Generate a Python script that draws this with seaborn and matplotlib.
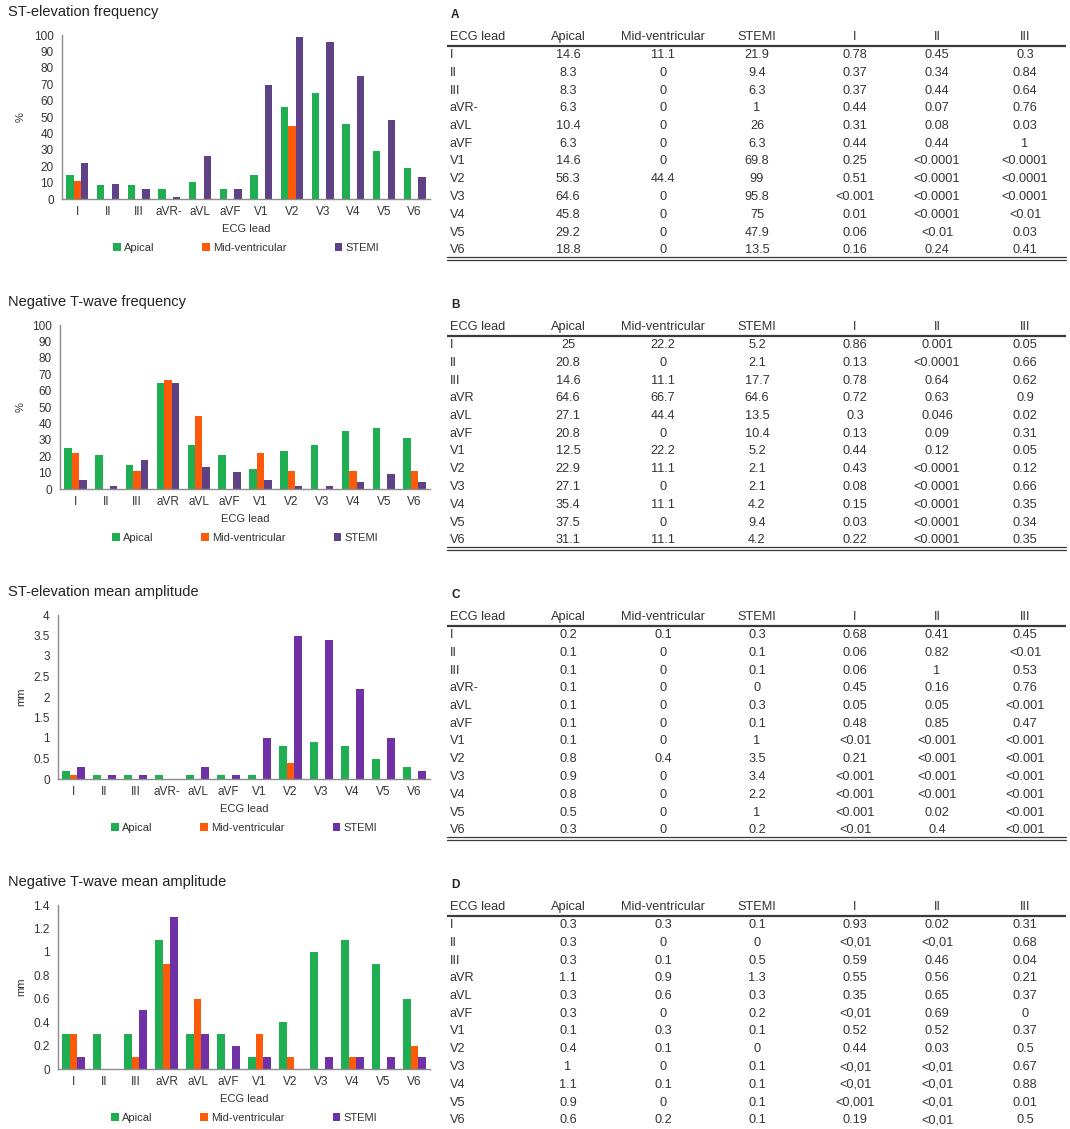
import numpy as np
import pandas as pd
import matplotlib
matplotlib.use("Agg")
import matplotlib.pyplot as plt
from matplotlib.ticker import MultipleLocator, FixedLocator, FuncFormatter
import seaborn as sns

# ---- data ----
groups = ["Apical", "Mid-ventricular", "STEMI"]
leads_a = ["I", "II", "III", "aVR-", "aVL", "aVF", "V1", "V2", "V3", "V4", "V5", "V6"]
leads_b = ["I", "II", "III", "aVR", "aVL", "aVF", "V1", "V2", "V3", "V4", "V5", "V6"]

# A - ST-elevation frequency (%)
st_freq_apical = [14.6, 8.3, 8.3, 6.3, 10.4, 6.3, 14.6, 56.3, 64.6, 45.8, 29.2, 18.8]
st_freq_mid = [11.1, 0, 0, 0, 0, 0, 0, 44.4, 0, 0, 0, 0]
st_freq_stemi = [21.9, 9.4, 6.3, 1, 26, 6.3, 69.8, 99, 95.8, 75, 47.9, 13.5]
st_freq_p1 = ["0.78", "0.37", "0.37", "0.44", "0.31", "0.44", "0.25", "0.51", "<0.001", "0.01", "0.06", "0.16"]
st_freq_p2 = ["0.45", "0.34", "0.44", "0.07", "0.08", "0.44", "<0.0001", "<0.0001", "<0.0001", "<0.0001", "<0.01", "0.24"]
st_freq_p3 = ["0.3", "0.84", "0.64", "0.76", "0.03", "1", "<0.0001", "<0.0001", "<0.0001", "<0.01", "0.03", "0.41"]

# B - negative T-wave frequency (%)
tw_freq_apical = [25, 20.8, 14.6, 64.6, 27.1, 20.8, 12.5, 22.9, 27.1, 35.4, 37.5, 31.1]
tw_freq_mid = [22.2, 0, 11.1, 66.7, 44.4, 0, 22.2, 11.1, 0, 11.1, 0, 11.1]
tw_freq_stemi = [5.2, 2.1, 17.7, 64.6, 13.5, 10.4, 5.2, 2.1, 2.1, 4.2, 9.4, 4.2]
tw_freq_p1 = ["0.86", "0.13", "0.78", "0.72", "0.3", "0.13", "0.44", "0.43", "0.08", "0.15", "0.03", "0.22"]
tw_freq_p2 = ["0.001", "<0.0001", "0.64", "0.63", "0.046", "0.09", "0.12", "<0.0001", "<0.0001", "<0.0001", "<0.0001", "<0.0001"]
tw_freq_p3 = ["0.05", "0.66", "0.62", "0.9", "0.02", "0.31", "0.05", "0.12", "0.66", "0.35", "0.34", "0.35"]

# C - ST-elevation mean amplitude (mm)
st_amp_apical = [0.2, 0.1, 0.1, 0.1, 0.1, 0.1, 0.1, 0.8, 0.9, 0.8, 0.5, 0.3]
st_amp_mid = [0.1, 0, 0, 0, 0, 0, 0, 0.4, 0, 0, 0, 0]
st_amp_stemi = [0.3, 0.1, 0.1, 0, 0.3, 0.1, 1, 3.5, 3.4, 2.2, 1, 0.2]
st_amp_p1 = ["0.68", "0.06", "0.06", "0.45", "0.05", "0.48", "<0.01", "0.21", "<0.001", "<0.001", "<0.001", "<0.01"]
st_amp_p2 = ["0.41", "0.82", "1", "0.16", "0.05", "0.85", "<0.001", "<0.001", "<0.001", "<0.001", "0.02", "0.4"]
st_amp_p3 = ["0.45", "<0.01", "0.53", "0.76", "<0.001", "0.47", "<0.001", "<0.001", "<0.001", "<0.001", "<0.001", "<0.001"]

# D - negative T-wave mean amplitude (mm)
tw_amp_apical = [0.3, 0.3, 0.3, 1.1, 0.3, 0.3, 0.1, 0.4, 1, 1.1, 0.9, 0.6]
tw_amp_mid = [0.3, 0, 0.1, 0.9, 0.6, 0, 0.3, 0.1, 0, 0.1, 0, 0.2]
tw_amp_stemi = [0.1, 0, 0.5, 1.3, 0.3, 0.2, 0.1, 0, 0.1, 0.1, 0.1, 0.1]
tw_amp_p1 = ["0.93", "<0,01", "0.59", "0.55", "0.35", "<0,01", "0.52", "0.44", "<0,01", "<0,01", "<0,001", "0.19"]
tw_amp_p2 = ["0.02", "<0,01", "0.46", "0.56", "0.65", "0.69", "0.52", "0.03", "<0,01", "<0,01", "<0,01", "<0,01"]
tw_amp_p3 = ["0.31", "0.68", "0.04", "0.21", "0.37", "0", "0.37", "0.5", "0.67", "0.88", "0.01", "0.5"]

table_header = ["ECG lead", "Apical", "Mid-ventricular", "STEMI", "I", "II", "III"]

GREEN = "#1fae51"
ORANGE = "#ff5a0a"
PURPLE_DARK = "#5f4285"
PURPLE = "#7131a6"
TXT = "#333333"
AXIS = "#8c8c8c"

W, H = 1070, 1129
sns.set_style("white")
plt.rcParams["font.family"] = ["Liberation Sans", "DejaVu Sans"]

fig = plt.figure(figsize=(W / 100, H / 100), dpi=100)

# overlay axes in pixel coordinates for titles and tables
ov = fig.add_axes([0, 0, 1, 1])
ov.set_xlim(0, W)
ov.set_ylim(H, 0)
ov.axis("off")
ov.patch.set_visible(False)


def bar_panel(off, left, title, leads, apical, mid, stemi, purple, ymax, ystep, ylabel):
    top, bottom, right = off + 35, off + 199, 430
    ax = fig.add_axes([left / W, 1 - bottom / H, (right - left) / W, (bottom - top) / H])
    df = pd.DataFrame({
        "lead": leads * 3,
        "group": [g for g in groups for _ in leads],
        "value": apical + mid + stemi,
    })
    sns.barplot(data=df, x="lead", y="value", hue="group", order=leads, hue_order=groups,
                palette=[GREEN, ORANGE, purple], width=0.72, gap=0, saturation=1,
                linewidth=0, ax=ax)
    ax.set_xlim(-0.5, len(leads) - 0.5)
    ax.set_ylim(0, ymax)
    ax.yaxis.set_major_locator(MultipleLocator(ystep))
    ax.yaxis.set_major_formatter(FuncFormatter(lambda v, p: f"{v:g}"))
    ax.xaxis.set_minor_locator(FixedLocator(np.arange(-0.5, len(leads), 1)))
    sns.despine(ax=ax)
    for s in ("left", "bottom"):
        ax.spines[s].set_color(AXIS)
        ax.spines[s].set_linewidth(1)
    ax.tick_params(axis="y", which="major", length=3, color=AXIS, labelsize=8.5, labelcolor=TXT, pad=3)
    ax.tick_params(axis="x", which="major", length=0, labelsize=8.5, labelcolor=TXT, pad=5)
    ax.tick_params(axis="x", which="minor", length=4, color=AXIS, direction="out")
    ax.set_xlabel("ECG lead", fontsize=8, color=TXT)
    ax.xaxis.set_label_coords(0.5, -(224 - 199) / 164)
    ax.set_ylabel(ylabel, fontsize=8, color=TXT)
    ax.yaxis.set_label_coords(-(left - 26) / (right - left), 0.5)
    h, l = ax.get_legend_handles_labels()
    ax.legend(h, l, loc="center", bbox_to_anchor=(0.5, -(248 - 199) / 164), ncol=3,
              frameon=False, fontsize=8, handlelength=0.7, handleheight=0.7,
              handletextpad=0.3, columnspacing=4.3, labelcolor=TXT)
    ov.text(8, off + 12, title, fontsize=10.5, color="#222222", va="center", ha="left")
    return ax


def table_panel(off, tag, leads, apical, mid, stemi, p1, p2, p3, bottom_line=True):
    ov.text(451, off + 15, tag, fontsize=8.5, fontweight="bold", color="#222222", va="center")
    xs = [450, 568, 663, 757, 855, 937, 1025]
    hy = off + 37
    for j, name in enumerate(table_header):
        ov.text(xs[j], hy, name, fontsize=9.2, color=TXT, va="center",
                ha="left" if j == 0 else "center")
    ov.plot([447, 1066], [off + 46, off + 46], color="#3a3a3a", lw=1.6, solid_capstyle="butt")
    cols = [[f"{v:g}" for v in apical], [f"{v:g}" for v in mid], [f"{v:g}" for v in stemi], p1, p2, p3]
    for i, lead in enumerate(leads):
        y = off + 55 + i * 17.75
        ov.text(xs[0], y, lead, fontsize=9.2, color=TXT, va="center", ha="left")
        for j, col in enumerate(cols):
            ov.text(xs[j + 1], y, col[i], fontsize=9.2, color=TXT, va="center", ha="center")
    if bottom_line:
        ov.plot([447, 1066], [off + 257, off + 257], color="#3a3a3a", lw=0.9)
        ov.plot([447, 1066], [off + 259.5, off + 259.5], color="#3a3a3a", lw=0.9)


bar_panel(0, 62, "ST-elevation frequency", leads_a, st_freq_apical, st_freq_mid, st_freq_stemi,
          PURPLE_DARK, 100, 10, "%")
bar_panel(290, 60, "Negative T-wave frequency", leads_b, tw_freq_apical, tw_freq_mid, tw_freq_stemi,
          PURPLE_DARK, 100, 10, "%")
bar_panel(580, 58, "ST-elevation mean amplitude", leads_a, st_amp_apical, st_amp_mid, st_amp_stemi,
          PURPLE, 4, 0.5, "mm")
bar_panel(870, 58, "Negative T-wave mean amplitude", leads_b, tw_amp_apical, tw_amp_mid, tw_amp_stemi,
          PURPLE, 1.4, 0.2, "mm")

table_panel(0, "A", leads_a, st_freq_apical, st_freq_mid, st_freq_stemi, st_freq_p1, st_freq_p2, st_freq_p3)
table_panel(290, "B", leads_b, tw_freq_apical, tw_freq_mid, tw_freq_stemi, tw_freq_p1, tw_freq_p2, tw_freq_p3)
table_panel(580, "C", leads_a, st_amp_apical, st_amp_mid, st_amp_stemi, st_amp_p1, st_amp_p2, st_amp_p3)
table_panel(870, "D", leads_b, tw_amp_apical, tw_amp_mid, tw_amp_stemi, tw_amp_p1, tw_amp_p2, tw_amp_p3,
            bottom_line=False)

fig.savefig("out.png", dpi=100)
